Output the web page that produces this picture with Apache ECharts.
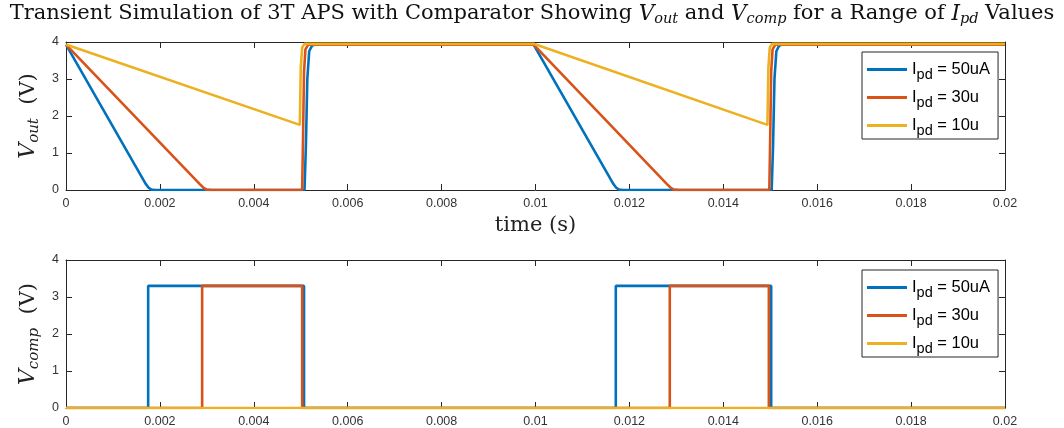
<!DOCTYPE html>
<html>
<head>
<meta charset="utf-8">
<script src="https://cdn.jsdelivr.net/npm/echarts@6/dist/echarts.min.js"></script>
<style>
  html, body { margin: 0; padding: 0; background: #fff; }
  #chart { width: 1064px; height: 428px; }
</style>
</head>
<body>
<div id="chart"></div>
<script>
// Time axis ticks (seconds) and voltage ticks
const timeTicks = [0, 0.002, 0.004, 0.006, 0.008, 0.01, 0.012, 0.014, 0.016, 0.018, 0.02];
const voltTicks = [0, 1, 2, 3, 4];

const legendNames = ['I{s|pd} = 50uA', 'I{s|pd} = 30u', 'I{s|pd} = 10u'];

// Pixel output voltage Vout (V) vs time (s)
const vout50 = [
  [0, 3.93], [0.0017, 0.16], [0.00176, 0.06], [0.00182, 0.01], [0.0019, 0],
  [0.00508, 0], [0.00511, 1.2], [0.00514, 3.0], [0.00518, 3.75], [0.00524, 3.9], [0.0053, 3.93],
  [0.00996, 3.93], [0.01166, 0.16], [0.01172, 0.06], [0.01178, 0.01], [0.01186, 0],
  [0.01503, 0], [0.01506, 1.2], [0.01509, 3.0], [0.01513, 3.75], [0.01519, 3.9], [0.01525, 3.93],
  [0.02, 3.93]
];
const vout30 = [
  [0, 3.93], [0.00285, 0.16], [0.00293, 0.06], [0.003, 0.01], [0.0031, 0],
  [0.00503, 0], [0.00505, 1.5], [0.00507, 3.2], [0.0051, 3.8], [0.00516, 3.93],
  [0.00996, 3.93], [0.0128, 0.16], [0.01288, 0.06], [0.01295, 0.01], [0.01305, 0],
  [0.01498, 0], [0.015, 1.5], [0.01502, 3.2], [0.01505, 3.8], [0.01511, 3.93],
  [0.02, 3.93]
];
const vout10 = [
  [0, 3.93], [0.00498, 1.76], [0.005, 3.3], [0.00503, 3.85], [0.00508, 3.95],
  [0.00996, 3.95], [0.01494, 1.76], [0.01496, 3.3], [0.01499, 3.85], [0.01504, 3.95],
  [0.02, 3.95]
];

// Comparator output Vcomp (V) vs time (s)
const vcomp50 = [
  [0, 0], [0.00175, 0], [0.00175, 3.3], [0.00507, 3.3], [0.00507, 0],
  [0.01171, 0], [0.01171, 3.3], [0.01502, 3.3], [0.01502, 0], [0.02, 0]
];
const vcomp30 = [
  [0, 0], [0.0029, 0], [0.0029, 3.3], [0.00503, 3.3], [0.00503, 0],
  [0.01286, 0], [0.01286, 3.3], [0.01497, 3.3], [0.01497, 0], [0.02, 0]
];
const vcomp10 = [
  [0, 0], [0.02, 0]
];

const colors = ['#0072BD', '#D95319', '#EDB120'];
const axisColor = '#262626';
const sans = 'Liberation Sans, Arial, sans-serif';
const serif = 'DejaVu Serif, serif';

const chart = echarts.init(document.getElementById('chart'), null, { renderer: 'canvas' });

function xAxes(gridIndex) {
  const base = {
    gridIndex: gridIndex,
    type: 'value',
    min: timeTicks[0],
    max: timeTicks[timeTicks.length - 1],
    interval: timeTicks[1] - timeTicks[0],
    splitLine: { show: false },
    axisLine: { show: true, onZero: false, lineStyle: { color: axisColor, width: 1 } },
    axisTick: { show: true, inside: true, length: 6, lineStyle: { color: axisColor } }
  };
  return [
    Object.assign({}, base, {
      position: 'bottom',
      axisLabel: { color: '#333', fontFamily: sans, fontSize: 12.5, margin: 7 },
      name: gridIndex === 0 ? 'time (s)' : '',
      nameLocation: 'middle',
      nameGap: 25,
      nameTextStyle: { fontFamily: serif, fontSize: 21, color: '#222' }
    }),
    Object.assign({}, base, { position: 'top', axisLabel: { show: false } })
  ];
}

function yAxes(gridIndex, label, sub) {
  const base = {
    gridIndex: gridIndex,
    type: 'value',
    min: voltTicks[0],
    max: voltTicks[voltTicks.length - 1],
    interval: voltTicks[1] - voltTicks[0],
    splitLine: { show: false },
    axisLine: { show: true, onZero: false, lineStyle: { color: axisColor, width: 1 } },
    axisTick: { show: true, inside: true, length: 6, lineStyle: { color: axisColor } }
  };
  return [
    Object.assign({}, base, {
      position: 'left',
      axisLabel: { color: '#333', fontFamily: sans, fontSize: 12.5, margin: 7 },
      name: '{v|' + label + '}{s|' + sub + '}  (V)',
      nameLocation: 'middle',
      nameGap: 7,
      nameTextStyle: {
        fontFamily: serif, fontSize: 21, color: '#222', lineHeight: 24,
        rich: {
          v: { fontFamily: serif, fontSize: 22, fontStyle: 'italic', color: '#222', lineHeight: 24 },
          s: { fontFamily: serif, fontSize: 15, fontStyle: 'italic', color: '#222', lineHeight: 12, padding: [10, 0, 0, 0] }
        }
      }
    }),
    Object.assign({}, base, { position: 'right', axisLabel: { show: false } })
  ];
}

function legendFor(gridTop) {
  return {
    data: legendNames,
    orient: 'vertical',
    left: 862,
    top: gridTop,
    icon: 'rect',
    itemWidth: 40,
    itemHeight: 3,
    itemGap: 3,
    padding: [5, 8, 1, 5],
    backgroundColor: '#fff',
    borderColor: axisColor,
    borderWidth: 1,
    borderRadius: 0,
    textStyle: {
      fontFamily: sans, fontSize: 16.5, color: '#000', lineHeight: 18,
      rich: {
        s: { fontFamily: sans, fontSize: 14.5, color: '#000', lineHeight: 12, padding: [10, 0, 0, 0] }
      }
    }
  };
}

function lineSeries(name, data, color, xi, yi) {
  return {
    name: name,
    type: 'line',
    data: data,
    xAxisIndex: xi,
    yAxisIndex: yi,
    showSymbol: false,
    symbol: 'none',
    smooth: false,
    animation: false,
    lineStyle: { color: color, width: 2.6 },
    itemStyle: { color: color }
  };
}

const option = {
  animation: false,
  backgroundColor: '#fff',
  title: {
    text: 'Transient Simulation of 3T APS with Comparator Showing {v|V}{s|out} and {v|V}{s|comp} for a Range of {v|I}{s|pd} Values',
    left: 'center',
    top: -5,
    textStyle: {
      fontFamily: serif, fontSize: 21, fontWeight: 'normal', color: '#111', lineHeight: 28,
      rich: {
        v: { fontFamily: serif, fontSize: 21.5, fontStyle: 'italic', color: '#111', lineHeight: 28 },
        s: { fontFamily: serif, fontSize: 14.5, fontStyle: 'italic', color: '#111', lineHeight: 14, padding: [10, 0, 0, 0] }
      }
    }
  },
  legend: [
    Object.assign(legendFor(52), { id: 'l0' }),
    Object.assign(legendFor(270), { id: 'l1' })
  ],
  grid: [
    { left: 66, right: 59, top: 42, height: 148 },
    { left: 66, right: 59, top: 260, height: 149 }
  ],
  xAxis: xAxes(0).concat(xAxes(1)),
  yAxis: yAxes(0, 'V', 'out').concat(yAxes(1, 'V', 'comp')),
  series: [
    lineSeries(legendNames[0], vout50, colors[0], 0, 0),
    lineSeries(legendNames[1], vout30, colors[1], 0, 0),
    lineSeries(legendNames[2], vout10, colors[2], 0, 0),
    lineSeries(legendNames[0], vcomp50, colors[0], 2, 2),
    lineSeries(legendNames[1], vcomp30, colors[1], 2, 2),
    lineSeries(legendNames[2], vcomp10, colors[2], 2, 2)
  ]
};

chart.setOption(option);
</script>
</body>
</html>
